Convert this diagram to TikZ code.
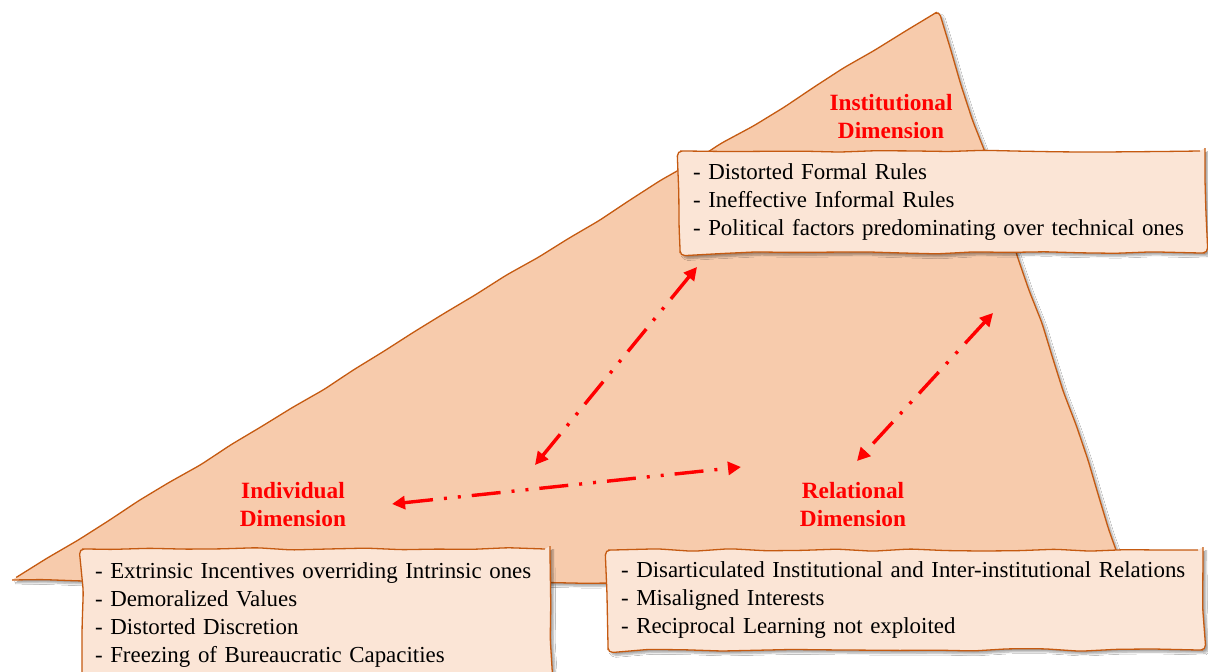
\documentclass[tikz,border=0pt]{standalone}
\usepackage{fontspec}
\setmainfont{Liberation Serif}
\usetikzlibrary{decorations.pathmorphing,arrows.meta,shadows.blur}
\definecolor{trifill}{HTML}{F7CBAC}
\definecolor{edge}{HTML}{C55A11}
\definecolor{boxfill}{HTML}{FBE5D6}
\definecolor{lblred}{HTML}{FF0000}
\tikzset{
  wobbly/.style={decorate,decoration={random steps,segment length=36pt,amplitude=1.3pt},rounded corners=5pt},
  shade/.style={blur shadow={shadow xshift=3pt,shadow yshift=-3pt,shadow opacity=35,shadow blur steps=6}},
  listbox/.style={draw=edge,line width=1.3pt,fill=boxfill,wobbly,shade,align=left,inner xsep=13pt,inner ysep=0pt,
    font=\fontsize{22.9}{28}\selectfont},
  dimlabel/.style={text=lblred,align=center,font=\fontsize{23.3}{28}\selectfont\bfseries},
  link/.style={draw=lblred,line width=3.4pt,dash pattern=on 29pt off 11pt on 3pt off 11pt on 3pt off 11pt,
    {Triangle[length=13pt,width=13pt]}-{Triangle[length=13pt,width=13pt]}}
}
\begin{document}
\begin{tikzpicture}[x=1pt,y=-1pt]
\pgfmathsetseed{7}
\clip (0,0) rectangle (1208,672);
\fill[white] (0,0) rectangle (1208,672);
% triangle
\coordinate (tl) at (12,580);
\coordinate (tt) at (937,12);
\coordinate (tr) at (1128,584);
\draw[draw=edge,line width=1.3pt,fill=trifill,wobbly,shade] (tl) -- (tt) -- (tr) -- cycle;
% labels
\node[dimlabel] (inst) at (891,117) {Institutional\\Dimension};
\node[dimlabel] (indiv) at (293,505) {Individual\\Dimension};
\node[dimlabel] (rel) at (853,505) {Relational\\Dimension};
% boxes
\node[listbox,minimum width=525pt,minimum height=102pt,text width=499pt] (instbox) at (942.5,202)
  {- Distorted Formal Rules\\- Ineffective Informal Rules\\- Political factors predominating over technical ones};
\node[listbox,minimum width=468pt,minimum height=132pt,text width=442pt] (indivbox) at (316,615)
  {- Extrinsic Incentives overriding Intrinsic ones\\- Demoralized Values\\- Distorted Discretion\\- Freezing of Bureaucratic Capacities};
\node[listbox,minimum width=595pt,minimum height=100pt,text width=569pt] (relbox) at (905.5,600)
  {- Disarticulated Institutional and Inter-institutional Relations\\- Misaligned Interests\\- Reciprocal Learning not exploited};
% connectors
\coordinate (a1s) at (697,267);
\coordinate (a1e) at (535,465);
\coordinate (a2s) at (392,504);
\coordinate (a2e) at (741,467);
\coordinate (a3s) at (993,313);
\coordinate (a3e) at (857,461);
\draw[link] (a1s) -- (a1e);
\draw[link] (a2s) -- (a2e);
\draw[link] (a3s) -- (a3e);
\end{tikzpicture}
\end{document}
